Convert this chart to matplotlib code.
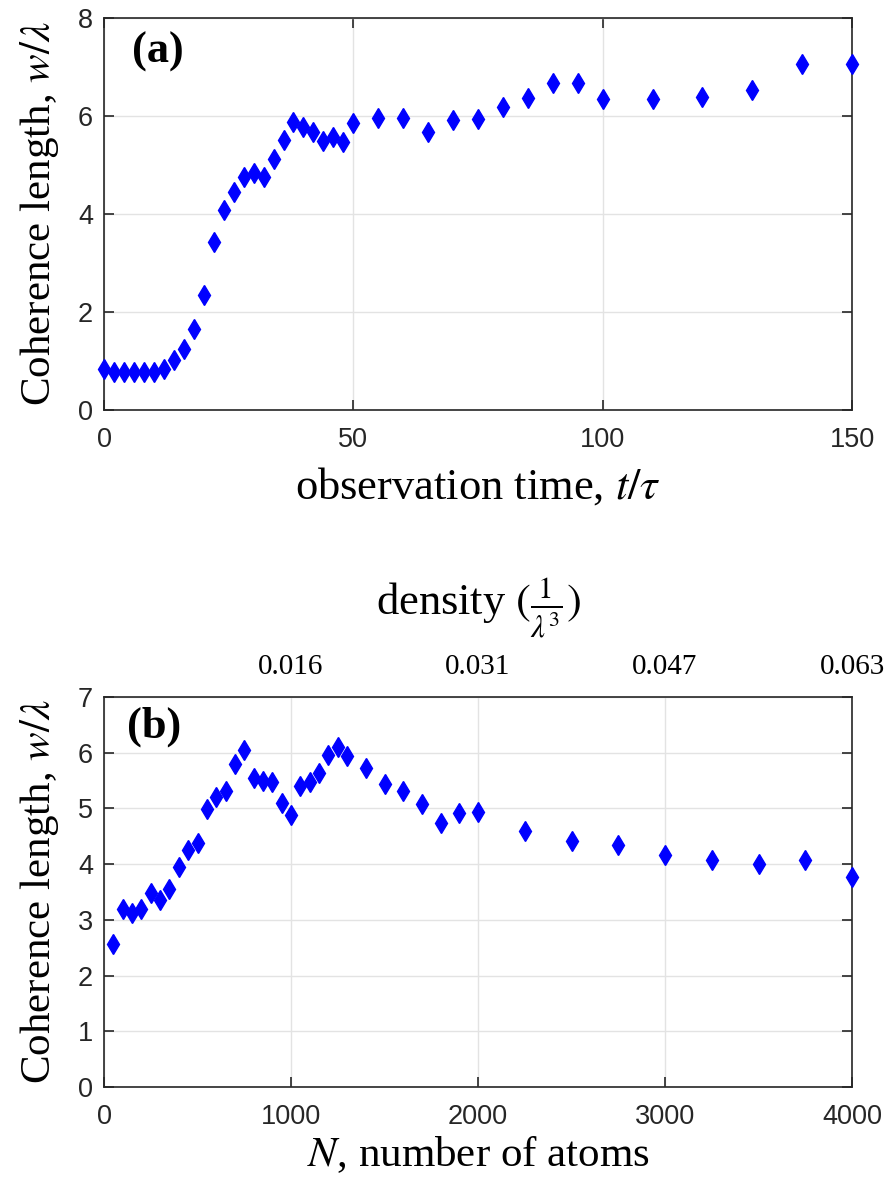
import matplotlib
matplotlib.use("Agg")
import matplotlib.pyplot as plt

plt.rcParams['mathtext.fontset'] = 'stix'

# ---- Panel (a) data ----
t_obs = [0, 2, 4, 6, 8, 10, 12, 14, 16, 18, 20, 22, 24, 26, 28, 30, 32, 34, 36, 38,
         40, 42, 44, 46, 48, 50, 55, 60, 65, 70, 75, 80, 85, 90, 95, 100, 110, 120,
         130, 140, 150]
w_a = [0.83, 0.77, 0.77, 0.77, 0.77, 0.77, 0.84, 1.02, 1.25, 1.66, 2.35, 3.42, 4.08,
       4.44, 4.76, 4.84, 4.76, 5.12, 5.52, 5.88, 5.78, 5.68, 5.50, 5.58, 5.46, 5.85,
       5.95, 5.95, 5.67, 5.91, 5.94, 6.19, 6.36, 6.67, 6.67, 6.35, 6.35, 6.39, 6.53,
       7.07, 7.07]

# ---- Panel (b) data ----
n_atoms = [50, 100, 150, 200, 250, 300, 350, 400, 450, 500, 550, 600, 650, 700, 750,
           800, 850, 900, 950, 1000, 1050, 1100, 1150, 1200, 1250, 1300, 1400, 1500,
           1600, 1700, 1800, 1900, 2000, 2250, 2500, 2750, 3000, 3250, 3500, 3750, 4000]
w_b = [2.57, 3.19, 3.12, 3.19, 3.48, 3.36, 3.56, 3.95, 4.25, 4.38, 4.99, 5.20, 5.32,
       5.80, 6.05, 5.55, 5.49, 5.48, 5.10, 4.88, 5.41, 5.48, 5.64, 5.96, 6.11, 5.95,
       5.73, 5.44, 5.31, 5.08, 4.74, 4.92, 4.93, 4.59, 4.42, 4.35, 4.17, 4.08, 4.01,
       4.07, 3.77]

# ---- tick labels ----
xticks_a = [0, 50, 100, 150]
yticks_a = [0, 2, 4, 6, 8]
xticks_b = [0, 1000, 2000, 3000, 4000]
yticks_b = [0, 1, 2, 3, 4, 5, 6, 7]
density_ticks = [1000, 2000, 3000, 4000]
density_labels = ['0.016', '0.031', '0.047', '0.063']

SERIF = 'Liberation Serif'
SANS = 'Liberation Sans'
AX_COL = '#262626'
GRID_COL = '#e3e3e3'
MARK_COL = '#0000ff'

fig = plt.figure(figsize=(8.89, 11.84), dpi=100)
W, H = 889, 1184

def make_axes(left, top, right, bottom):
    return fig.add_axes([left / W, 1 - bottom / H, (right - left) / W, (bottom - top) / H])

def style(ax):
    for s in ax.spines.values():
        s.set_color(AX_COL)
        s.set_linewidth(1.2)
    ax.grid(True, color=GRID_COL, linewidth=1.0)
    ax.set_axisbelow(True)
    ax.tick_params(direction='in', length=7, width=1.2, color=AX_COL,
                   top=True, right=True, labelsize=19.5, labelcolor=AX_COL)
    ax.tick_params(axis='x', pad=12)
    ax.tick_params(axis='y', pad=8)
    for lab in ax.get_xticklabels() + ax.get_yticklabels():
        lab.set_family(SANS)

# Panel (a)
ax1 = make_axes(104, 18, 852, 410)
ax1.plot(t_obs, w_a, linestyle='none', marker='d', markersize=10.5,
         color=MARK_COL, markeredgecolor=MARK_COL, clip_on=False, zorder=3)
ax1.set_xlim(0, 150)
ax1.set_ylim(0, 8)
ax1.set_xticks(xticks_a)
ax1.set_yticks(yticks_a)
style(ax1)
ax1.set_xlabel(r'observation time, $t/\tau$', fontsize=32, family=SERIF, labelpad=9)
ax1.set_ylabel(r'Coherence length, $w/\lambda$', fontsize=31, family=SERIF, labelpad=12)
ax1.text(0.038, 0.965, '(a)', transform=ax1.transAxes, fontsize=32, fontweight='bold',
         family=SERIF, va='top', ha='left')

# Panel (b)
ax2 = make_axes(104, 697, 852, 1087)
ax2.plot(n_atoms, w_b, linestyle='none', marker='d', markersize=10.5,
         color=MARK_COL, markeredgecolor=MARK_COL, clip_on=False, zorder=3)
ax2.set_xlim(0, 4000)
ax2.set_ylim(0, 7)
ax2.set_xticks(xticks_b)
ax2.set_yticks(yticks_b)
style(ax2)
ax2.set_xlabel(r'$N$, number of atoms', fontsize=31, family=SERIF, labelpad=3)
ax2.set_ylabel(r'Coherence length, $w/\lambda$', fontsize=31, family=SERIF, labelpad=12)
ax2.text(0.031, 0.975, '(b)', transform=ax2.transAxes, fontsize=32, fontweight='bold',
         family=SERIF, va='top', ha='left')

ax3 = ax2.twiny()
ax3.set_xlim(ax2.get_xlim())
ax3.set_xticks(density_ticks)
ax3.set_xticklabels(density_labels, family=SERIF, fontsize=21)
ax3.tick_params(axis='x', direction='in', length=0, pad=12, labelcolor='black')
for s in ax3.spines.values():
    s.set_visible(False)
ax3.set_xlabel(r'density $(\frac{1}{\lambda^3})$', fontsize=32, family=SERIF, labelpad=28)

fig.savefig('out.png', dpi=100)
